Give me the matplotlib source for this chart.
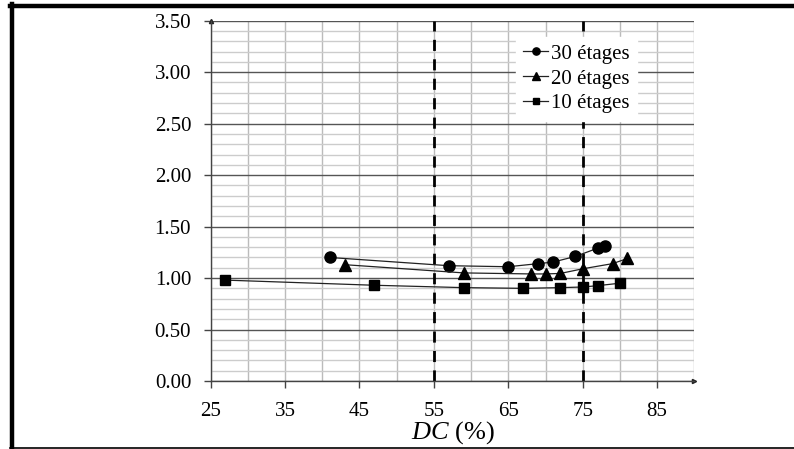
import matplotlib.pyplot as plt
from matplotlib.lines import Line2D
from matplotlib.ticker import MultipleLocator

# DC (%) and normalised values for each building height
dc_30 = [41, 57, 65, 69, 71, 74, 77, 78]
val_30 = [1.20, 1.12, 1.11, 1.14, 1.155, 1.21, 1.29, 1.315]

dc_20 = [43, 59, 68, 70, 72, 75, 79, 81]
val_20 = [1.13, 1.05, 1.04, 1.04, 1.045, 1.09, 1.14, 1.19]

dc_10 = [27, 47, 59, 67, 72, 75, 77, 80]
val_10 = [0.98, 0.93, 0.907, 0.90, 0.907, 0.913, 0.926, 0.95]

limits_dc = [55, 75]
labels = ["30 étages", "20 étages", "10 étages"]

plt.rcParams['font.family'] = ['Liberation Serif', 'DejaVu Serif']
plt.rcParams['mathtext.fontset'] = 'custom'
plt.rcParams['mathtext.rm'] = 'Liberation Serif'
plt.rcParams['mathtext.it'] = 'Liberation Serif:italic'

fig = plt.figure(figsize=(7.94, 4.49), dpi=100)
ax = fig.add_axes([210.6 / 794, 1 - 381 / 449, (694.4 - 210.6) / 794, (381 - 20.7) / 449])

ax.set_xlim(25, 90)
ax.set_ylim(0, 3.5)
ax.xaxis.set_minor_locator(MultipleLocator(5))
ax.set_xticks([25, 35, 45, 55, 65, 75, 85])
ax.yaxis.set_major_locator(MultipleLocator(0.5))
ax.yaxis.set_minor_locator(MultipleLocator(0.1))
ax.yaxis.set_major_formatter(lambda v, p: f"{v:.2f}")

ax.grid(which='major', axis='y', color='#555555', linewidth=1.0)
ax.grid(which='minor', axis='y', color='#cccccc', linewidth=1.0)
ax.grid(which='both', axis='x', color='#bbbbbb', linewidth=1.0)
ax.set_axisbelow(True)

for s in ['top', 'right']:
    ax.spines[s].set_visible(False)
for s in ['left', 'bottom']:
    ax.spines[s].set_color('#444444')
    ax.spines[s].set_linewidth(1.0)
ax.plot(1, 0, '>', color='#222222', ms=3, transform=ax.transAxes, clip_on=False)
ax.plot(0, 1, '^', color='#222222', ms=3, transform=ax.transAxes, clip_on=False)

ax.tick_params(which='major', direction='out', length=5, width=1, color='#444444',
               labelsize=15)
ax.tick_params(which='minor', length=0)
ax.tick_params(axis='y', pad=9)
ax.tick_params(axis='x', pad=10)

for xv in limits_dc:
    ax.axvline(xv, color='black', linestyle=(0, (4, 3)), linewidth=2.0, zorder=2)

kw = dict(color='#222222', linewidth=0.9, zorder=3)
ax.plot(dc_30, val_30, marker='o', ms=8, mfc='black', mec='black', label=labels[0], **kw)
ax.plot(dc_20, val_20, marker='^', ms=8, mfc='black', mec='black', label=labels[1], **kw)
ax.plot(dc_10, val_10, marker='s', ms=6.5, mfc='black', mec='black', label=labels[2], **kw)

leg = ax.legend(loc='upper right', bbox_to_anchor=(0.882, 0.955), fontsize=15,
                frameon=True, fancybox=False, handlelength=1.2, handletextpad=0.15,
                labelspacing=0.25, borderpad=0.35, borderaxespad=0, markerscale=0.65)
leg.get_frame().set_edgecolor('white')
leg.get_frame().set_facecolor('white')
leg.get_frame().set_alpha(1)

ax.set_xlabel(r"$\it{DC}$ (%)", fontsize=19, labelpad=-1)

# Page border lines
fig.add_artist(Line2D([12 / 794, 12 / 794], [0, 1 - 4 / 449], color='black', linewidth=3.2))
fig.add_artist(Line2D([10 / 794, 1], [1 - 5.5 / 449, 1 - 5.5 / 449], color='black', linewidth=3.2))
fig.add_artist(Line2D([10 / 794, 1], [1.5 / 449, 1.5 / 449], color='black', linewidth=1.2))

fig.savefig("out.png", dpi=100)
